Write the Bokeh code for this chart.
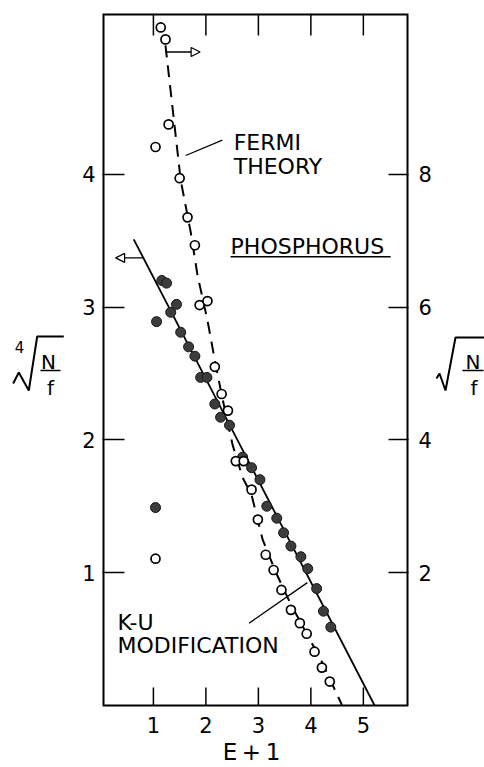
from bokeh.plotting import figure
from bokeh.models import Range1d, LinearAxis, FixedTicker, Label, Arrow, NormalHead
from bokeh.layouts import row
from bokeh.core.properties import value
from bokeh.embed import file_html
from bokeh.resources import INLINE

FONT = "DejaVu Sans"

# ---- data -------------------------------------------------------------
# Fermi theory plot: E + 1 against sqrt(N/f)  (open circles, right scale)
fermi_x = [1.14, 1.23, 1.29, 1.04, 1.50, 1.65, 1.79, 1.88, 2.03, 2.17, 2.30,
           2.42, 2.57, 2.72, 2.87, 2.99, 3.14, 3.29, 3.44, 3.62, 3.79, 3.92,
           4.07, 4.21, 4.36, 1.04]
fermi_y = [10.21, 10.03, 8.75, 8.41, 7.94, 7.35, 6.93, 6.03, 6.09, 5.10, 4.69,
           4.44, 3.68, 3.68, 3.25, 2.80, 2.27, 2.04, 1.74, 1.44, 1.24, 1.08,
           0.81, 0.57, 0.36, 2.21]

# K-U modification plot: E + 1 against fourth root of N/f  (filled, left scale)
ku_x = [1.16, 1.25, 1.44, 1.33, 1.06, 1.52, 1.67, 1.79, 1.90, 2.02, 2.17,
        2.28, 2.45, 2.70, 2.87, 3.03, 3.16, 3.35, 3.48, 3.62, 3.81, 3.94,
        4.11, 4.24, 4.38, 1.04]
ku_y = [3.20, 3.18, 3.02, 2.96, 2.89, 2.81, 2.70, 2.63, 2.47, 2.47, 2.27,
        2.17, 2.11, 1.87, 1.79, 1.70, 1.50, 1.41, 1.30, 1.20, 1.12, 1.03,
        0.88, 0.71, 0.59, 1.49]

# straight K-U line (left scale)
ku_line_x = [0.625, 5.215]
ku_line_y = [3.51, 0.0]

# curve drawn through the Fermi points (right scale)
fermi_curve_x = [1.23, 1.37, 1.52, 1.71, 1.84, 2.03, 2.17, 2.30, 2.51, 2.70,
                 2.87, 3.08, 3.33, 3.62, 3.90, 4.19, 4.59]
fermi_curve_y = [9.94, 8.96, 7.91, 7.13, 6.48, 5.80, 5.20, 4.68, 3.92, 3.43,
                 3.17, 2.50, 2.01, 1.52, 1.11, 0.69, 0.01]

x_ticks = [1, 2, 3, 4, 5]
x_tick_labels = ["1", "2", "3", "4", "5"]
left_ticks = [1, 2, 3, 4]
right_ticks = [2, 4, 6, 8]
x_title = "E\u2009+\u20091"

X_RANGE = (0.03, 5.86)
# the plotting area runs on below zero so the bottom labels can sit in it;
# the drawn box itself spans 0 .. Y_TOP
Y_TOP = 5.21
Y_RANGE = (-0.467, Y_TOP)

FRAME_TOP = 13
PX_PER_UNIT = (767 - FRAME_TOP) / (Y_RANGE[1] - Y_RANGE[0])

# ---- main plot --------------------------------------------------------
p = figure(width=364, height=767,
           x_range=Range1d(*X_RANGE), y_range=Range1d(*Y_RANGE),
           x_axis_type=None, y_axis_type=None,
           toolbar_location=None, output_backend="svg",
           min_border_left=32, min_border_right=26,
           min_border_top=FRAME_TOP, min_border_bottom=0)
p.extra_y_ranges = {"right": Range1d(2 * Y_RANGE[0], 2 * Y_RANGE[1])}
p.outline_line_color = None
p.background_fill_color = "white"
p.border_fill_color = "white"


def make_axis(ticks, tick_in, standoff=6, **kw):
    return LinearAxis(
        ticker=FixedTicker(ticks=ticks),
        major_tick_in=tick_in, major_tick_out=0,
        major_tick_line_color="black", major_tick_line_width=1.5,
        minor_tick_line_color=None, axis_line_color=None,
        major_label_text_font=FONT, major_label_text_font_size="21px",
        major_label_text_color="black", major_label_standoff=standoff,
        **kw)


p.add_layout(make_axis(left_ticks, 22, standoff=7), "left")
p.add_layout(make_axis(right_ticks, 20, standoff=10, y_range_name="right"),
             "right")

# box around the plot (outer edges sit on the frame boundary)
x0, x1 = X_RANGE
p.line([x0, x0, x1, x1], [0, Y_TOP, Y_TOP, 0], line_color="black", line_width=4)
p.line([x0, x1], [0, 0], line_color="black", line_width=2)

# tick marks along the bottom and top edges
bot_len = 18 / PX_PER_UNIT
top_len = 22 / PX_PER_UNIT
n = len(x_ticks)
p.segment(x0=x_ticks, y0=[0] * n, x1=x_ticks, y1=[bot_len] * n,
          line_color="black", line_width=1.5)
p.segment(x0=x_ticks, y0=[Y_TOP] * n, x1=x_ticks, y1=[Y_TOP - top_len] * n,
          line_color="black", line_width=1.5)

# bottom tick labels and axis title
p.text(x=x_ticks, y=[-20 / PX_PER_UNIT] * n, text=x_tick_labels,
       text_font=value(FONT), text_font_size="21px", text_color="black",
       text_align="center", text_baseline="alphabetic")
p.text(x=[x0 + 149 / 52.5], y=[-47 / PX_PER_UNIT], text=[x_title],
       text_font=value(FONT), text_font_size="23px", text_color="black",
       text_align="center", text_baseline="alphabetic")

# fitted lines
p.line(ku_line_x, ku_line_y, line_color="black", line_width=1.8)
p.line(fermi_curve_x, fermi_curve_y, y_range_name="right",
       line_color="black", line_width=2, line_dash="12 8")

# points
p.scatter(ku_x, ku_y, marker="circle", size=10,
          fill_color="#3c3c3c", line_color="#161616", line_width=1)
p.scatter(fermi_x, fermi_y, y_range_name="right", marker="circle", size=9,
          fill_color="white", line_color="black", line_width=1.7)

# scale arrows
p.add_layout(Arrow(x_start=0.82, y_start=3.37, x_end=0.28, y_end=3.37,
                   line_width=1.3,
                   end=NormalHead(size=9, fill_color="white",
                                  line_color="black", line_width=1.2)))
p.add_layout(Arrow(x_start=1.23, y_start=9.84, x_end=1.89, y_end=9.84,
                   y_range_name="right", line_width=1.3,
                   end=NormalHead(size=9, fill_color="white",
                                  line_color="black", line_width=1.2)))


# annotations
def note(x, y, text, size="22px"):
    p.add_layout(Label(x=x, y=y, text=text, text_font=FONT,
                       text_font_size=size, text_color="black",
                       text_baseline="alphabetic", text_align="left"))


note(2.53, 4.235, "FERMI")
note(2.53, 4.055, "THEORY")
note(2.47, 3.455, "PHOSPHORUS")
note(0.314, 0.624, "K-U")
note(0.314, 0.451, "MODIFICATION")

p.line([2.47, 5.52], [3.378, 3.378], line_color="black", line_width=1.5)
p.line([1.615, 2.314], [4.141, 4.256], line_color="black", line_width=1.3)
p.line([2.821, 3.933], [0.619, 0.925], line_color="black", line_width=1.3)


# ---- side panels holding the radical axis titles ----------------------
# panel coordinates are page pixels (y grows downwards)
def panel(width):
    q = figure(width=width, height=767,
               x_range=Range1d(0, width),
               y_range=Range1d(767, FRAME_TOP),
               x_axis_type=None, y_axis_type=None,
               toolbar_location=None, output_backend="svg",
               min_border_left=0, min_border_right=0,
               min_border_top=FRAME_TOP, min_border_bottom=0)
    q.outline_line_color = None
    q.background_fill_color = "white"
    q.border_fill_color = "white"
    return q


lp = panel(70)
lp.line([12.7, 18.3, 28.3, 36.7, 63.3], [383, 372, 390, 336, 336],
        line_color="black", line_width=2)
lp.line([40, 60], [370, 370], line_color="black", line_width=1.6)
lp.text(x=[19], y=[346], text=["4"], text_font=value(FONT),
        text_font_size="15px", text_align="center", text_baseline="alphabetic")
lp.text(x=[48, 50], y=[361, 387], text=["N", "f"], text_font=value(FONT),
        text_font_size="20px", text_align="center", text_baseline="alphabetic")

rp = panel(50)
rp.line([2, 5, 11, 21, 50], [378, 373, 390, 337, 337],
        line_color="black", line_width=2)
rp.line([28, 49], [370, 370], line_color="black", line_width=1.6)
rp.text(x=[38.5, 39.5], y=[361, 387], text=["N", "f"], text_font=value(FONT),
        text_font_size="20px", text_align="center", text_baseline="alphabetic")

layout = row(lp, p, rp, spacing=0)

with open("out.html", "w") as fh:
    fh.write(file_html(layout, INLINE))
